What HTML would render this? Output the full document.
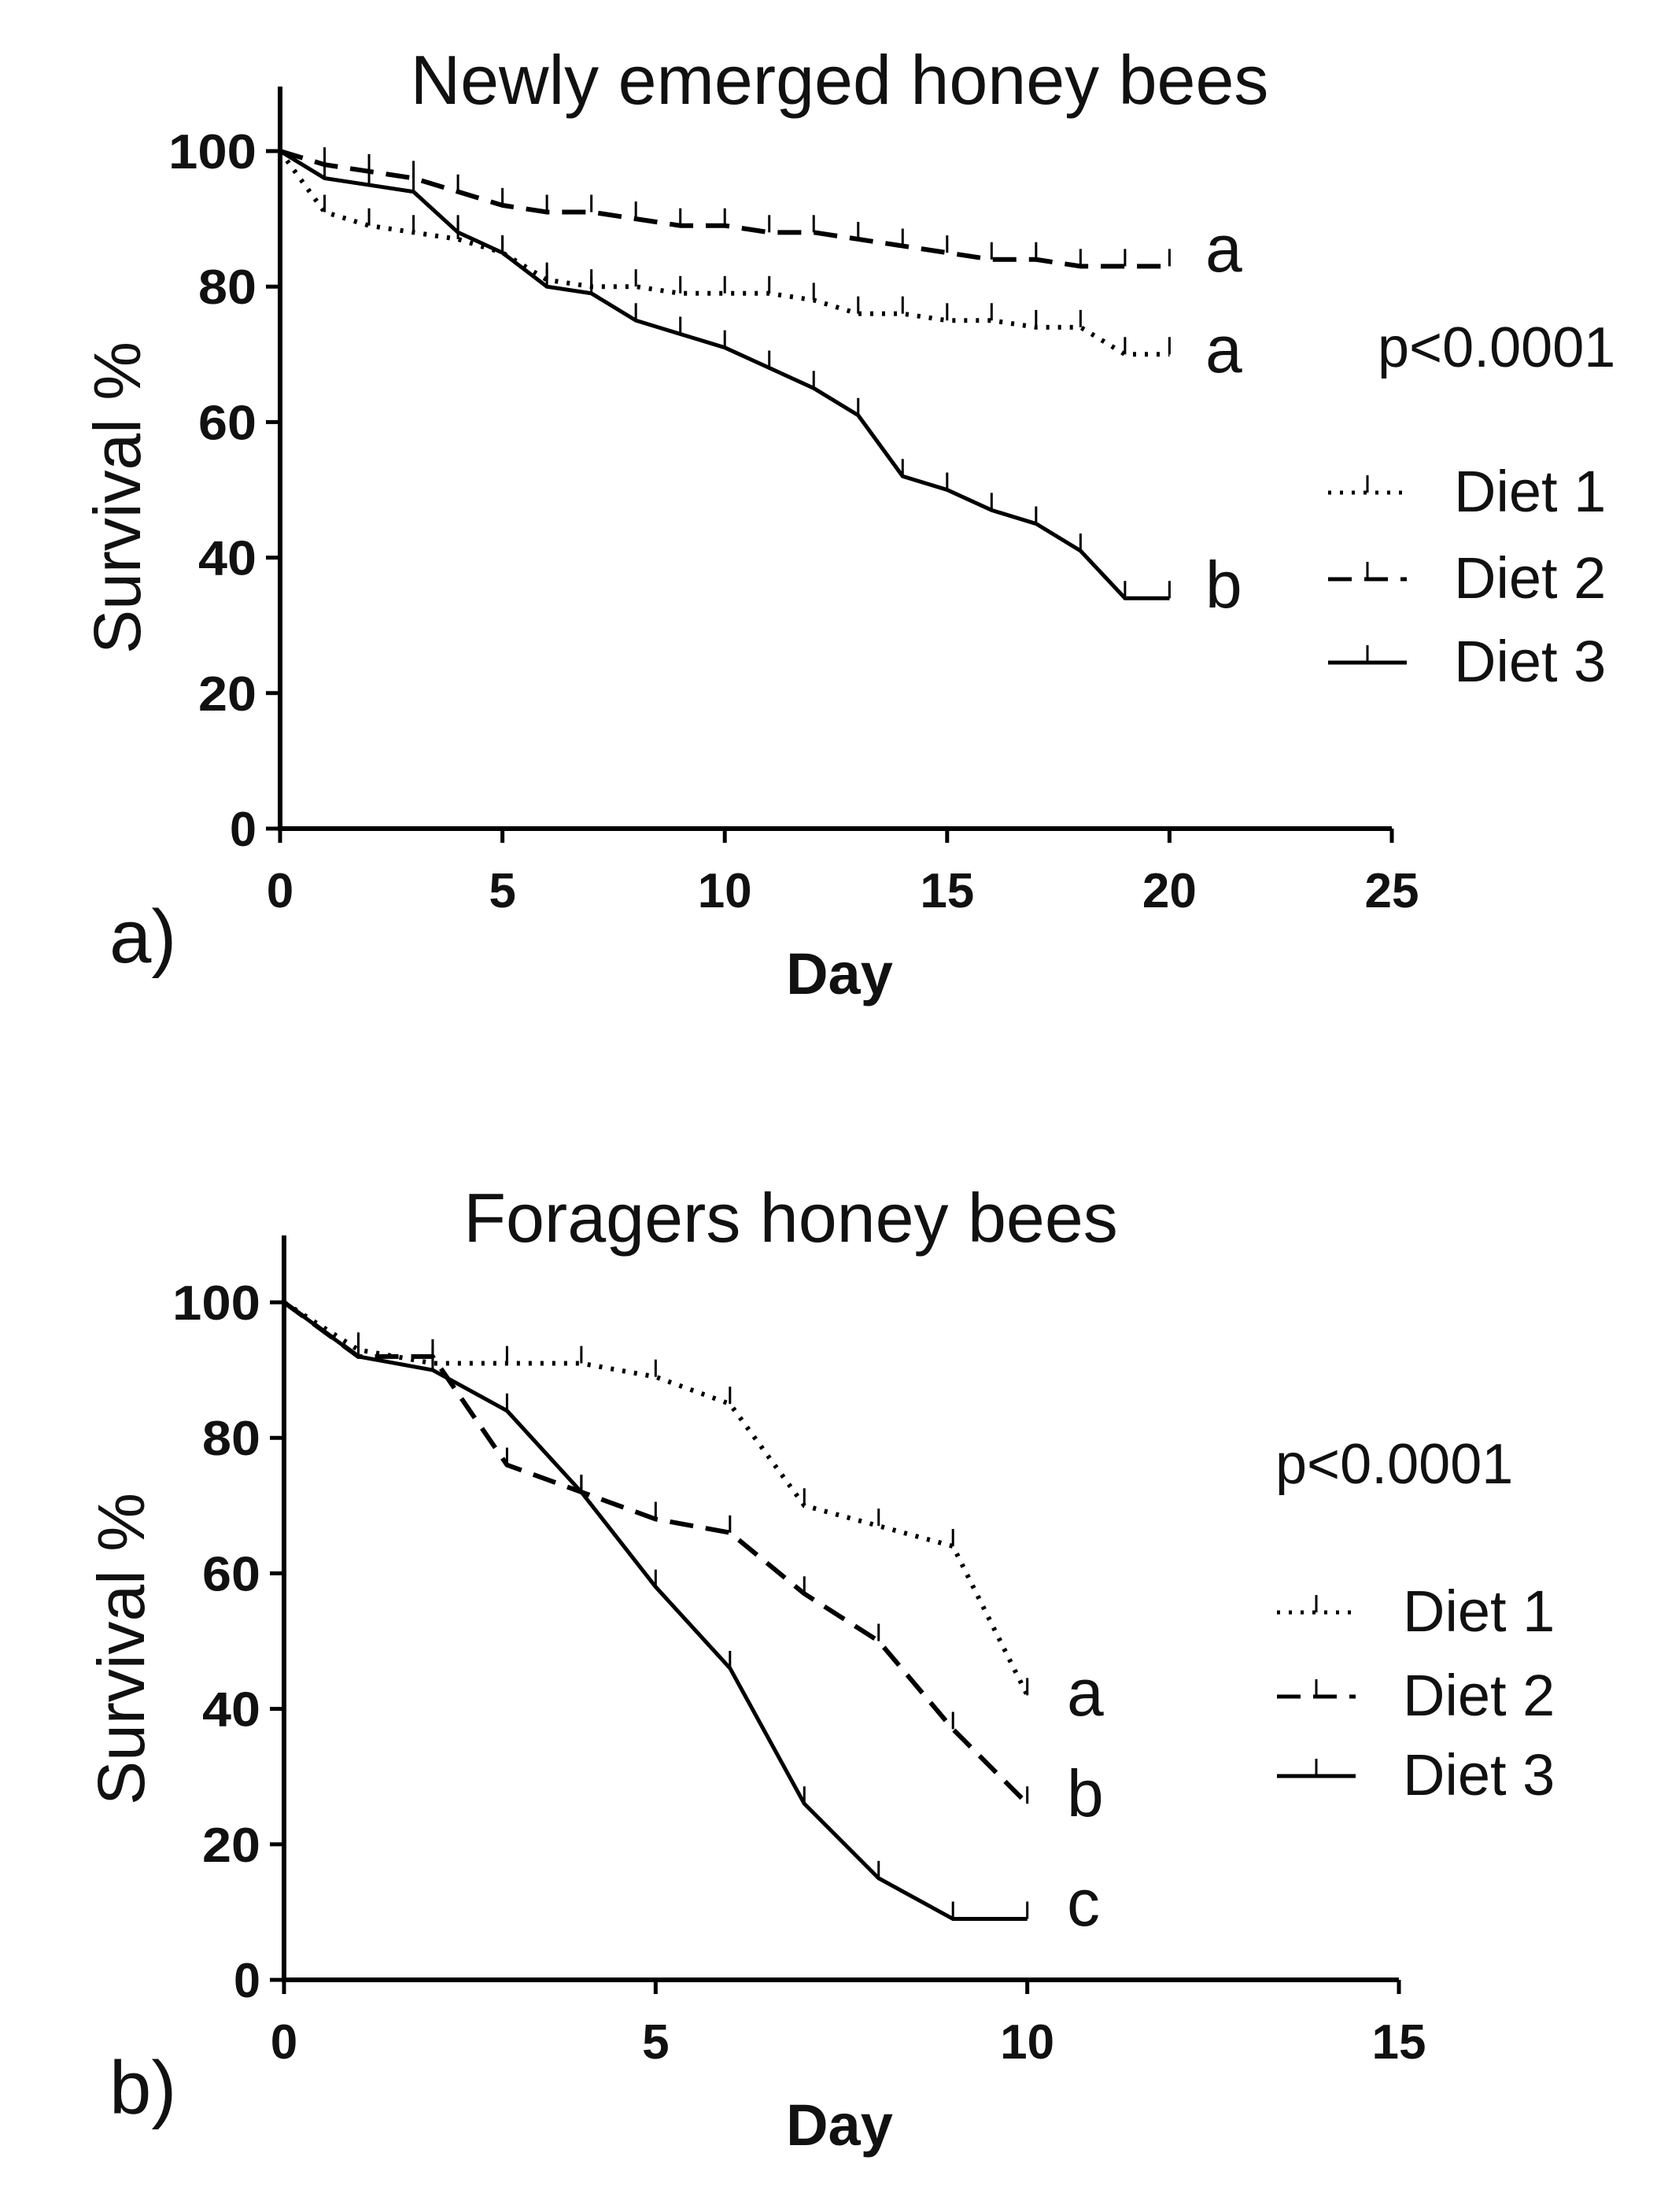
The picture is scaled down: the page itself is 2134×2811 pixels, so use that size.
<!DOCTYPE html>
<html><head><meta charset="utf-8"><style>
html,body{margin:0;padding:0;background:#fff}
svg{display:block}
text{font-family:"Liberation Sans",sans-serif;fill:#111}
</style></head><body>
<svg id="root" width="2134" height="2811" viewBox="0 0 2134 2811"></svg>
<script>
const daysA=[0,1,2,3,4,5,6,7,8,9,10,11,12,13,14,15,16,17,18,19,20];
const a_diet1=[100,91,89,88,87,85,81,80,80,79,79,79,78,76,76,75,75,74,74,70,70];
const a_diet2=[100,98,97,96,94,92,91,91,90,89,89,88,88,87,86,85,84,84,83,83,83];
const a_diet3=[100,96,95,94,88,85,80,79,75,73,71,68,65,61,52,50,47,45,41,34,34];
const daysB=[0,1,2,3,4,5,6,7,8,9,10];
const b_diet1=[100,93,91,91,91,89,85,70,67,64,42];
const b_diet2=[100,92,92,76,72,68,66,57,50,37,26];
const b_diet3=[100,92,90,84,72,58,46,26,15,9,9];
const yTicks=[0,20,40,60,80,100];
const xTicksA=[0,5,10,15,20,25];
const xTicksB=[0,5,10,15];
const seriesNames=["Diet 1","Diet 2","Diet 3"];
const lettersA=["a","a","b"];
const lettersB=["a","b","c"];

const NS="http://www.w3.org/2000/svg";
const root=document.getElementById('root');
function mk(tag,attrs,parent){const e=document.createElementNS(NS,tag);for(const k in attrs)e.setAttribute(k,attrs[k]);(parent||root).appendChild(e);return e;}
function txt(s,attrs,parent){const e=mk('text',attrs,parent);e.textContent=s;return e;}
const dashes=["4 11","30 16",null];

function panel(cfg){
  const g=mk('g',{});
  
  
  const X=v=>cfg.x0+(v-0)/(cfg.xmax)*(cfg.x1-cfg.x0);
  const Y=v=>cfg.y0-(v/100)*(cfg.y0-cfg.y100);
  const t=txt(cfg.title,{x:cfg.titleX,y:cfg.titleY,'font-size':88,'text-anchor':'middle'},g);
  
  const ya=mk('line',{x1:cfg.x0,y1:cfg.y0,x2:cfg.x0,y2:cfg.yTop,stroke:'#000','stroke-width':6},g);
  
  const xa=mk('line',{x1:cfg.x0-3,y1:cfg.y0,x2:cfg.x1,y2:cfg.y0,stroke:'#000','stroke-width':6},g);
  
  yTicks.forEach(v=>{
    mk('line',{x1:cfg.x0-18,y1:Y(v),x2:cfg.x0,y2:Y(v),stroke:'#000','stroke-width':5},g);
    const l=txt(String(v),{x:cfg.x0-30,y:Y(v)+22,'font-size':62,'font-weight':'bold','text-anchor':'end','textLength':v==100?112:(v==0?34:74),'lengthAdjust':'spacingAndGlyphs'},g);
    
  });
  cfg.xTicks.forEach(v=>{
    mk('line',{x1:X(v),y1:cfg.y0,x2:X(v),y2:cfg.y0+18,stroke:'#000','stroke-width':5},g);
    const l=txt(String(v),{x:X(v),y:cfg.y0+100,'font-size':62,'font-weight':'bold','text-anchor':'middle'},g);
    
  });
  const yt=txt('Survival %',{x:0,y:0,'font-size':84,'text-anchor':'middle',transform:`translate(${cfg.x0-178},${(cfg.y0+cfg.y100)/2+10}) rotate(-90)`},g);
  
  const xt=txt('Day',{x:1067,y:cfg.y0+210,'font-size':74,'font-weight':'bold','text-anchor':'middle'},g);
  
  const pl=txt(cfg.panelLabel,{x:139,y:cfg.y0+170,'font-size':96},g);
  
  cfg.series.forEach((vals,i)=>{
    const pts=cfg.days.map((d,j)=>X(d)+','+Y(vals[j])).join(' ');
    const a={points:pts,fill:'none',stroke:'#000','stroke-width':i==2?5:6};
    if(dashes[i])a['stroke-dasharray']=dashes[i];
    const p=mk('polyline',a,g);
    
    
    cfg.days.forEach((d,j)=>{ if(j>0){
      const tk=mk('line',{x1:X(d),y1:Y(vals[j]),x2:X(d),y2:Y(vals[j])-22,stroke:'#000','stroke-width':3},g);
      
    }});
    const lt=txt(cfg.letters[i],{x:cfg.letterX,y:cfg.letterY[i],'font-size':84},g);
    
  });
  const pv=txt('p<0.0001',{x:cfg.pX,y:cfg.pY,'font-size':72},g);
  
  seriesNames.forEach((n,i)=>{
    const ly=cfg.legY[i];
    const a={x1:cfg.legX,y1:ly-24,x2:cfg.legX+100,y2:ly-24,stroke:'#000','stroke-width':5};
    if(dashes[i])a['stroke-dasharray']=dashes[i];
    const sw=mk('line',a,g);
    
    mk('line',{x1:cfg.legX+50,y1:ly-24,x2:cfg.legX+50,y2:ly-46,stroke:'#000','stroke-width':3},g);
    const lt=txt(n,{x:cfg.legX+160,y:ly,'font-size':74},g);
    
  });
}
panel({name:'panel-a',title:'Newly emerged honey bees',titleX:1067,titleY:132,x0:356,x1:1769,xmax:25,y0:1053,y100:192,yTop:110,
  xTicks:xTicksA,days:daysA,series:[a_diet1,a_diet2,a_diet3],letters:lettersA,letterX:1532,letterY:[345,473,772],
  pX:1751,pY:466,legX:1688,legY:[650,760,866],panelLabel:'a)'});
panel({name:'panel-b',title:'Foragers honey bees',titleX:1005,titleY:1578,x0:361,x1:1778,xmax:15,y0:2516,y100:1655,yTop:1570,
  xTicks:xTicksB,days:daysB,series:[b_diet1,b_diet2,b_diet3],letters:lettersB,letterX:1356,letterY:[2180,2308,2447],
  pX:1621,pY:1885,legX:1623,legY:[2073,2180,2281],panelLabel:'b)'});
</script>
</body></html>
